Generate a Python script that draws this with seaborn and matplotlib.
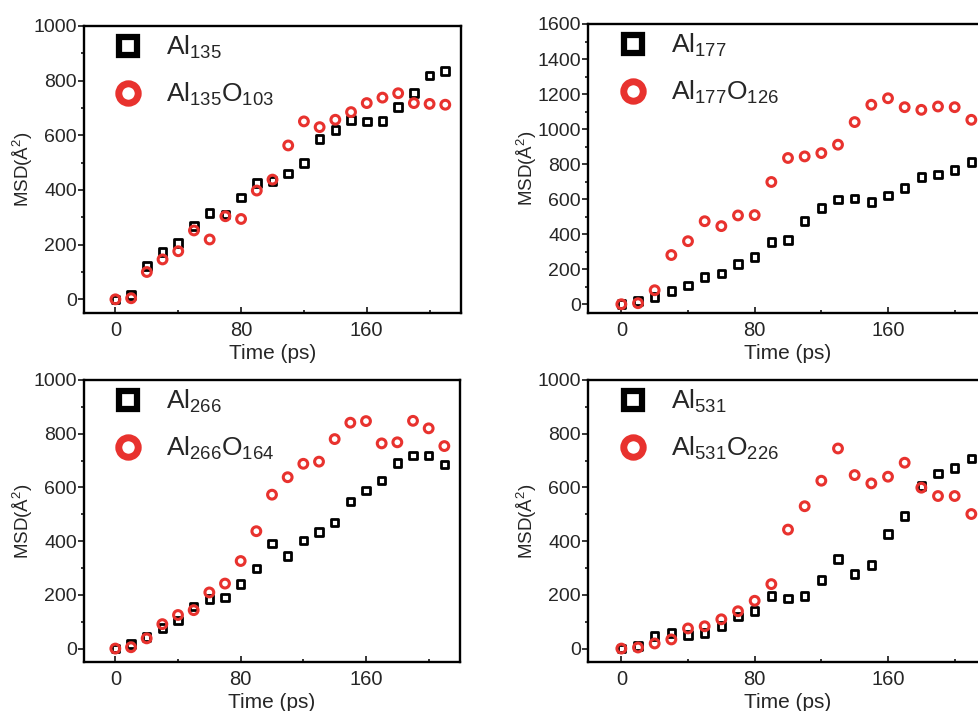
import numpy as np
import pandas as pd
import matplotlib
matplotlib.use("Agg")
import matplotlib.pyplot as plt
from matplotlib.lines import Line2D
import seaborn as sns
from matplotlib.ticker import MultipleLocator

time_ps = [0, 10, 20, 30, 40, 50, 60, 70, 80, 90, 100, 110, 120, 130, 140, 150, 160, 170, 180, 190, 200, 210]

al135 = [0, 15, 122, 174, 207, 268, 315, 310, 373, 426, 432, 460, 499, 586, 620, 655, 651, 653, 703, 754, 819, 835]
al135o103 = [0, 4, 100, 146, 176, 252, 219, 304, 294, 398, 438, 563, 651, 630, 657, 685, 718, 738, 754, 718, 715, 712]

al177 = [0, 19, 42, 76, 108, 156, 176, 231, 269, 357, 366, 474, 550, 598, 603, 583, 620, 664, 725, 740, 765, 812]
al177o126 = [0, 6, 80, 281, 360, 474, 446, 507, 509, 698, 835, 844, 863, 911, 1040, 1139, 1176, 1125, 1110, 1129, 1125, 1053]

al266 = [0, 17, 44, 77, 104, 157, 184, 190, 240, 298, 391, 344, 402, 433, 470, 548, 588, 626, 690, 719, 719, 686]
al266o164 = [0, 5, 38, 91, 125, 143, 209, 242, 326, 437, 573, 638, 688, 696, 780, 841, 847, 764, 768, 848, 820, 754]

al531 = [0, 10, 46, 58, 50, 58, 84, 120, 139, 196, 186, 196, 255, 333, 278, 311, 426, 493, 605, 652, 673, 708]
al531o226 = [0, 4, 19, 34, 75, 83, 109, 139, 178, 240, 443, 530, 625, 745, 646, 615, 640, 692, 599, 568, 568, 501]

labels_metal = [r"$\mathregular{Al_{135}}$", r"$\mathregular{Al_{177}}$",
                r"$\mathregular{Al_{266}}$", r"$\mathregular{Al_{531}}$"]
labels_oxide = [r"$\mathregular{Al_{135}O_{103}}$", r"$\mathregular{Al_{177}O_{126}}$",
                r"$\mathregular{Al_{266}O_{164}}$", r"$\mathregular{Al_{531}O_{226}}$"]
ylims = [(-50, 1000), (-50, 1600), (-50, 1000), (-50, 1000)]

sns.set_theme(style="white")
plt.rcParams["font.family"] = ["Liberation Sans", "DejaVu Sans"]
plt.rcParams["mathtext.fontset"] = "custom"
plt.rcParams["mathtext.rm"] = "Liberation Sans"
plt.rcParams["mathtext.it"] = "Liberation Sans:italic"

fig = plt.figure(figsize=(9.79, 7.11), dpi=100)
W, H = 979, 711
boxes = [  # left, top, right, bottom in pixels
    (84, 26, 461, 313),
    (588, 24, 988, 313),
    (84, 380, 460, 662),
    (588, 380, 988, 662),
]
metal = [al135, al177, al266, al531]
oxide = [al135o103, al177o126, al266o164, al531o226]
red = "#e8322e"

for i, (l, t, r, b) in enumerate(boxes):
    ax = fig.add_axes([l / W, 1 - b / H, (r - l) / W, (b - t) / H])
    df = pd.DataFrame({"t": time_ps, "m": metal[i], "o": oxide[i]})
    sns.scatterplot(data=df, x="t", y="m", marker="s", s=30, fc="none", ec="black",
                    linewidth=2.0, ax=ax, legend=False, zorder=3)
    sns.scatterplot(data=df, x="t", y="o", marker="o", s=40, fc="none", ec=red,
                    linewidth=2.2, ax=ax, legend=False, zorder=4)
    ax.set_xlim(-20, 220)
    ax.set_ylim(*ylims[i])
    ax.xaxis.set_major_locator(MultipleLocator(80))
    ax.xaxis.set_minor_locator(MultipleLocator(40))
    ax.yaxis.set_major_locator(MultipleLocator(200))
    ax.yaxis.set_minor_locator(MultipleLocator(100))
    ax.tick_params(axis="x", which="major", direction="in", length=4, width=1.3,
                   labelsize=14.5, pad=6, bottom=True)
    ax.tick_params(axis="x", which="minor", direction="in", length=2.5, width=1.3, bottom=True)
    ax.tick_params(axis="y", which="major", direction="out", length=4, width=1.3,
                   labelsize=14, pad=1, left=True)
    ax.tick_params(axis="y", which="minor", direction="out", length=2.5, width=1.3, left=True)
    for sp in ax.spines.values():
        sp.set_linewidth(1.7)
        sp.set_color("black")
    ax.set_xlabel("Time (ps)", fontsize=15, labelpad=2.5)
    ax.set_ylabel(r"MSD(Å$^2$)", fontsize=13.5, labelpad=-1)
    handles = [
        Line2D([], [], marker="s", ls="", mfc="none", mec="black", ms=13, mew=4.5),
        Line2D([], [], marker="o", ls="", mfc="none", mec=red, ms=14, mew=5.0),
    ]
    ax.legend(handles, [labels_metal[i], labels_oxide[i]], loc="upper left",
              frameon=False, fontsize=19, handletextpad=0.95,
              labelspacing=0.75, borderaxespad=0.0, borderpad=0.3, handlelength=1.0,
              bbox_to_anchor=(0.06, 1.0))

fig.savefig("out.png", dpi=100)
